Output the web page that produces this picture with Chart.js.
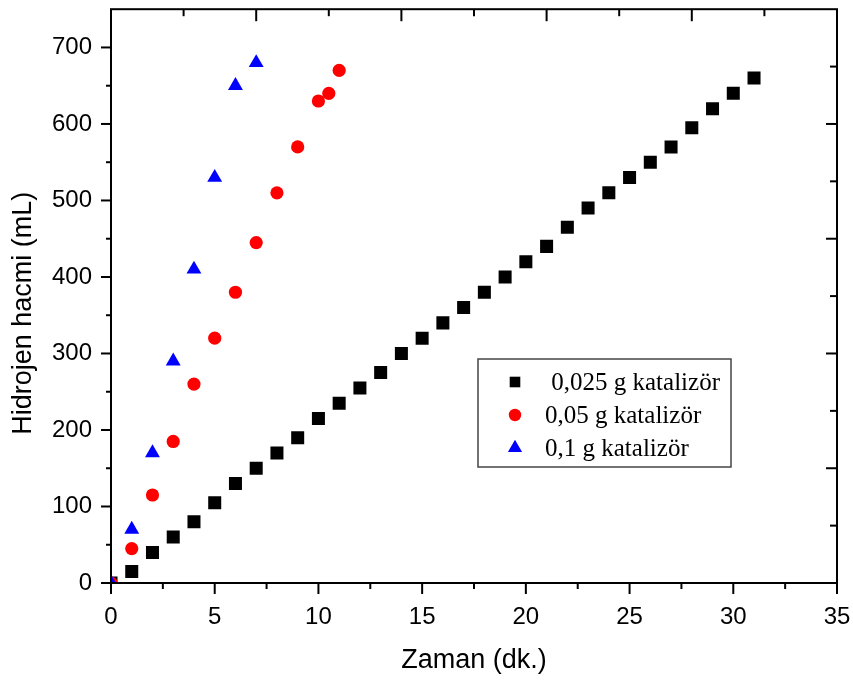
<!DOCTYPE html>
<html><head><meta charset="utf-8">
<script src="https://cdn.jsdelivr.net/npm/chart.js@4.4.0/dist/chart.umd.min.js"></script>
<style>html,body{margin:0;padding:0;background:#fff;}</style>
</head><body>
<canvas id="c" width="853" height="682" style="display:block;width:853px;height:682px"></canvas>
<script>
// ---- data ----
const seriesLabels = [' 0,025 g katalizör', '0,05 g katalizör', '0,1 g katalizör'];
const time025 = [0,1,2,3,4,5,6,7,8,9,10,11,12,13,14,15,16,17,18,19,20,21,22,23,24,25,26,27,28,29,30,31];
const h2_025  = [0,15,40,60,80,105,130,150,170,190,215,235,255,275,300,320,340,360,380,400,420,440,465,490,510,530,550,570,595,620,640,660];
const time05  = [0,1,2,3,4,5,6,7,8,9,10,10.5,11];
const h2_05   = [0,45,115,185,260,320,380,445,510,570,630,640,670];
const time01  = [0,1,2,3,4,5,6,7];
const h2_01   = [0,70,170,290,410,530,650,680];
const xTitle = 'Zaman (dk.)';
const yTitle = 'Hidrojen hacmi (mL)';
const xRange = [0, 35], xStep = 5;
const yRange = [0, 750], yStep = 100;
const topStep = 3.5, rightStep = 75;

const pts = (xs, ys) => xs.map((v, i) => ({x: v, y: ys[i]}));
const TICK_FONT = {family: "'Liberation Sans', Arial, sans-serif", size: 24};

const axesPlugin = {
  id: 'axesDeco',
  afterDraw(chart) {
    const {ctx, chartArea: a, scales: {x, y}} = chart;
    ctx.save();
    ctx.strokeStyle = '#000';
    ctx.lineWidth = 2;
    ctx.strokeRect(a.left, a.top, a.right - a.left, a.bottom - a.top);
    const seg = (x1, y1, x2, y2) => { ctx.beginPath(); ctx.moveTo(x1, y1); ctx.lineTo(x2, y2); ctx.stroke(); };
    const MAJ = 11, MIN = 6;
    // bottom (outward), major every xStep, minor halfway
    for (let v = xRange[0]; v <= xRange[1] + 1e-9; v += xStep / 2) {
      const p = x.getPixelForValue(v);
      const major = Math.abs(v / xStep - Math.round(v / xStep)) < 1e-6;
      seg(p, a.bottom, p, a.bottom + (major ? MAJ : MIN));
    }
    // top (inward)
    for (let v = xRange[0]; v <= xRange[1] + 1e-9; v += topStep) {
      const p = x.getPixelForValue(v);
      const major = Math.abs(v / (2 * topStep) - Math.round(v / (2 * topStep))) < 1e-6;
      seg(p, a.top, p, a.top + (major ? MAJ + 1 : MIN + 1));
    }
    // left (outward)
    for (let v = yRange[0]; v < yRange[1] - 1e-9; v += yStep / 2) {
      const p = y.getPixelForValue(v);
      const major = Math.abs(v / yStep - Math.round(v / yStep)) < 1e-6;
      seg(a.left, p, a.left - (major ? MAJ - 1 : MIN - 1), p);
    }
    // right (inward)
    for (let v = yRange[0]; v < yRange[1] - 1e-9; v += rightStep) {
      const p = y.getPixelForValue(v);
      const major = Math.abs(v / (2 * rightStep) - Math.round(v / (2 * rightStep))) < 1e-6;
      seg(a.right, p, a.right - (major ? MAJ : MIN + 1), p);
    }
    // y title
    ctx.fillStyle = '#000';
    ctx.font = "27px 'Liberation Sans', Arial, sans-serif";
    ctx.textAlign = 'center';
    ctx.textBaseline = 'alphabetic';
    ctx.translate(31, a.top + 304);
    ctx.rotate(-Math.PI / 2);
    ctx.fillText(yTitle, 0, 0);
    ctx.restore();

    // legend
    ctx.save();
    const bx = 478, by = 359, bw = 253, bh = 108;
    ctx.fillStyle = '#fff';
    ctx.fillRect(bx, by, bw, bh);
    ctx.strokeStyle = '#444';
    ctx.lineWidth = 1.5;
    ctx.strokeRect(bx, by, bw, bh);
    ctx.font = "25px 'Liberation Serif', 'Times New Roman', serif";
    ctx.textAlign = 'left';
    ctx.textBaseline = 'middle';
    const legR = [7.5, 6.2, 8.2];
    chart.data.datasets.forEach((ds, i) => {
      const cy = by + 23 + i * 33;
      ctx.fillStyle = ds.backgroundColor;
      ctx.strokeStyle = ds.backgroundColor;
      Chart.helpers.drawPoint(ctx, {pointStyle: ds.pointStyle, radius: legR[i], rotation: 0, borderWidth: 0}, 515, cy);
      ctx.fillStyle = '#000';
      ctx.fillText(ds.label, 545, cy + 1);
    });
    ctx.restore();
  }
};

new Chart(document.getElementById('c'), {
  type: 'scatter',
  data: {
    datasets: [
      {label: seriesLabels[0], data: pts(time025, h2_025), pointStyle: 'rect', pointRadius: 9.2,
       backgroundColor: '#000000', borderColor: '#000000', borderWidth: 0, clip: 0, order: 2},
      {label: seriesLabels[1], data: pts(time05, h2_05), pointStyle: 'circle', pointRadius: 6.6,
       backgroundColor: '#ff0000', borderColor: '#ff0000', borderWidth: 0, clip: 0, order: 1},
      {label: seriesLabels[2], data: pts(time01, h2_01), pointStyle: 'triangle', pointRadius: 8.6,
       backgroundColor: '#0000ff', borderColor: '#0000ff', borderWidth: 0, clip: 0, order: 0}
    ]
  },
  options: {
    responsive: false,
    animation: false,
    events: [],
    devicePixelRatio: 1,
    layout: {padding: {left: 0, right: 16, top: 7, bottom: 0}},
    plugins: {legend: {display: false}, tooltip: {enabled: false}},
    scales: {
      x: {
        type: 'linear', min: xRange[0], max: xRange[1],
        grid: {display: false, drawTicks: false, tickLength: 0},
        border: {display: false},
        ticks: {stepSize: xStep, font: TICK_FONT, color: '#000', padding: 20, maxRotation: 0},
        title: {display: true, text: xTitle, color: '#000',
                font: {family: "'Liberation Sans', Arial, sans-serif", size: 27}, padding: {top: 0, bottom: 5}},
        afterFit(s) { s.height = 99; s.paddingLeft = 0; s.paddingRight = 0; }
      },
      y: {
        type: 'linear', min: yRange[0], max: yRange[1],
        grid: {display: false, drawTicks: false, tickLength: 0},
        border: {display: false},
        ticks: {stepSize: yStep, font: TICK_FONT, color: '#000', padding: 19},
        afterBuildTicks(s) { s.ticks = s.ticks.filter(t => t.value % yStep === 0); },
        afterFit(s) { s.width = 111; s.paddingTop = 0; s.paddingBottom = 0; }
      }
    }
  },
  plugins: [axesPlugin]
});
</script>
</body></html>
